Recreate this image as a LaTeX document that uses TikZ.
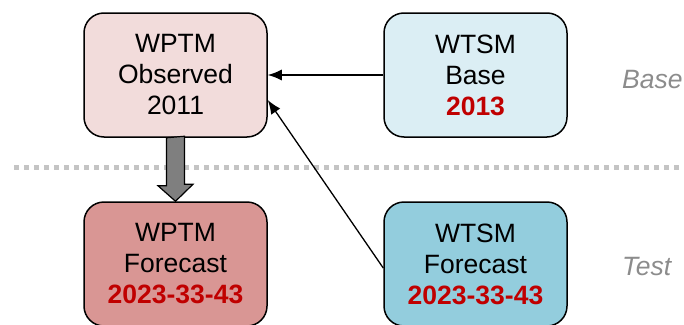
\documentclass[tikz,border=0pt]{standalone}
\usepackage{fontspec}
\setmainfont{Liberation Sans}
\usetikzlibrary{arrows.meta,calc}
\definecolor{pinkL}{HTML}{F2DCDB}
\definecolor{pinkD}{HTML}{D99694}
\definecolor{blueL}{HTML}{DBEEF4}
\definecolor{blueD}{HTML}{93CDDD}
\definecolor{redT}{HTML}{C00000}
\definecolor{grayT}{HTML}{8C8C8C}
\definecolor{dotG}{HTML}{C4C4C4}
\definecolor{arrG}{HTML}{7F7F7F}
\tikzset{
  box/.style={draw=black, line width=1.5pt, rounded corners=20pt, minimum width=183pt, minimum height=124pt, inner sep=0pt, align=center, font=\fontsize{26.5}{31}\selectfont},
  conn/.style={line width=1.3pt, -{Latex[length=14pt,width=11pt]}},
  lbl/.style={font=\fontsize{26.5}{31}\selectfont\itshape, text=grayT, anchor=base west, inner sep=0pt},
  bigarrow/.style={draw=black, line width=1.2pt, fill=arrG}
}
\begin{document}
\begin{tikzpicture}[x=1pt,y=-1pt]
\useasboundingbox (0,0) rectangle (684,324);
\draw[dotG, line width=5pt, dash pattern=on 5pt off 5pt] (14,167) -- (684,167);
\node[box, fill=pinkL] (b1) at (175.5,75) {WPTM\\Observed\\2011};
\node[box, fill=blueL] (b2) at (475.5,75) {WTSM\\Base\\\textcolor{redT}{\textbf{2013}}};
\node[box, fill=pinkD] (b3) at (175.5,264) {WPTM\\Forecast\\\textcolor{redT}{\textbf{2023-33-43}}};
\node[box, fill=blueD] (b4) at (475.5,264) {WTSM\\Forecast\\\textcolor{redT}{\textbf{2023-33-43}}};
\draw[conn] (b2.west) -- (b1.east);
\draw[conn] ($(b4.west)+(0,4)$) -- ($(b1.east)+(0,25)$);
\draw[bigarrow] ($(b1.south)+(-9,0)$) -- ++(0,48) -- ++(-8.5,0) -- (b3.north) -- ++(17.5,-17) -- ++(-8.5,0) -- ++(0,-48) -- cycle;
\node[lbl] (base) at (622,88) {Base};
\node[lbl] (test) at (622,275) {Test};
\end{tikzpicture}
\end{document}
